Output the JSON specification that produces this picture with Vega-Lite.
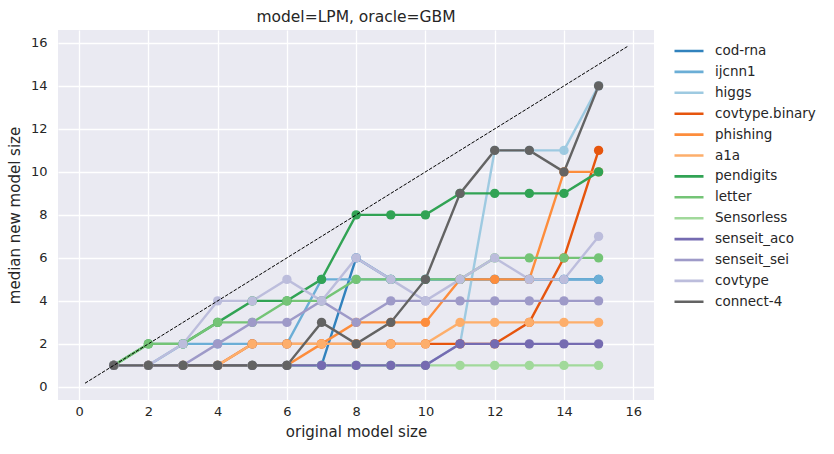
{
  "$schema": "https://vega.github.io/schema/vega-lite/v6.json",
  "width": 596,
  "height": 370,
  "autosize": "none",
  "padding": {"left": 58, "top": 30, "right": 180, "bottom": 54},
  "background": "white",
  "title": {"text": "model=LPM, oracle=GBM", "fontSize": 15.5, "fontWeight": "normal", "font": "DejaVu Sans", "color": "#262626", "offset": 5},
  "config": {
    "view": {"fill": "#EAEAF2", "stroke": null},
    "axis": {
      "domain": false, "ticks": false, "grid": true, "gridColor": "white", "gridWidth": 1.3,
      "labelFont": "DejaVu Sans", "labelFontSize": 13, "labelColor": "#262626",
      "titleFont": "DejaVu Sans", "titleFontSize": 15, "titleFontWeight": "normal", "titleColor": "#262626"
    },
    "legend": {"labelFont": "DejaVu Sans", "labelFontSize": 13.5, "labelColor": "#262626"}
  },
  "datasets": {
    "series": [
      {"s":"cod-rna","x":1,"y":1},{"s":"cod-rna","x":2,"y":1},{"s":"cod-rna","x":3,"y":1},{"s":"cod-rna","x":4,"y":1},{"s":"cod-rna","x":5,"y":1},{"s":"cod-rna","x":6,"y":1},{"s":"cod-rna","x":7,"y":1},{"s":"cod-rna","x":8,"y":6},{"s":"cod-rna","x":9,"y":5},{"s":"cod-rna","x":10,"y":5},{"s":"cod-rna","x":11,"y":5},{"s":"cod-rna","x":12,"y":5},{"s":"cod-rna","x":13,"y":5},{"s":"cod-rna","x":14,"y":5},{"s":"cod-rna","x":15,"y":5},
      {"s":"ijcnn1","x":1,"y":1},{"s":"ijcnn1","x":2,"y":1},{"s":"ijcnn1","x":3,"y":2},{"s":"ijcnn1","x":4,"y":2},{"s":"ijcnn1","x":5,"y":2},{"s":"ijcnn1","x":6,"y":2},{"s":"ijcnn1","x":7,"y":5},{"s":"ijcnn1","x":8,"y":5},{"s":"ijcnn1","x":9,"y":5},{"s":"ijcnn1","x":10,"y":5},{"s":"ijcnn1","x":11,"y":5},{"s":"ijcnn1","x":12,"y":5},{"s":"ijcnn1","x":13,"y":5},{"s":"ijcnn1","x":14,"y":5},{"s":"ijcnn1","x":15,"y":5},
      {"s":"higgs","x":1,"y":1},{"s":"higgs","x":2,"y":1},{"s":"higgs","x":3,"y":1},{"s":"higgs","x":4,"y":1},{"s":"higgs","x":5,"y":1},{"s":"higgs","x":6,"y":1},{"s":"higgs","x":7,"y":1},{"s":"higgs","x":8,"y":1},{"s":"higgs","x":9,"y":1},{"s":"higgs","x":10,"y":1},{"s":"higgs","x":11,"y":2},{"s":"higgs","x":12,"y":11},{"s":"higgs","x":13,"y":11},{"s":"higgs","x":14,"y":11},{"s":"higgs","x":15,"y":14},
      {"s":"covtype.binary","x":1,"y":1},{"s":"covtype.binary","x":2,"y":1},{"s":"covtype.binary","x":3,"y":1},{"s":"covtype.binary","x":4,"y":1},{"s":"covtype.binary","x":5,"y":2},{"s":"covtype.binary","x":6,"y":2},{"s":"covtype.binary","x":7,"y":2},{"s":"covtype.binary","x":8,"y":2},{"s":"covtype.binary","x":9,"y":2},{"s":"covtype.binary","x":10,"y":2},{"s":"covtype.binary","x":11,"y":2},{"s":"covtype.binary","x":12,"y":2},{"s":"covtype.binary","x":13,"y":3},{"s":"covtype.binary","x":14,"y":6},{"s":"covtype.binary","x":15,"y":11},
      {"s":"phishing","x":1,"y":1},{"s":"phishing","x":2,"y":1},{"s":"phishing","x":3,"y":1},{"s":"phishing","x":4,"y":1},{"s":"phishing","x":5,"y":1},{"s":"phishing","x":6,"y":1},{"s":"phishing","x":7,"y":2},{"s":"phishing","x":8,"y":3},{"s":"phishing","x":9,"y":3},{"s":"phishing","x":10,"y":3},{"s":"phishing","x":11,"y":5},{"s":"phishing","x":12,"y":5},{"s":"phishing","x":13,"y":5},{"s":"phishing","x":14,"y":10},{"s":"phishing","x":15,"y":10},
      {"s":"a1a","x":1,"y":1},{"s":"a1a","x":2,"y":1},{"s":"a1a","x":3,"y":1},{"s":"a1a","x":4,"y":1},{"s":"a1a","x":5,"y":2},{"s":"a1a","x":6,"y":2},{"s":"a1a","x":7,"y":2},{"s":"a1a","x":8,"y":2},{"s":"a1a","x":9,"y":2},{"s":"a1a","x":10,"y":2},{"s":"a1a","x":11,"y":3},{"s":"a1a","x":12,"y":3},{"s":"a1a","x":13,"y":3},{"s":"a1a","x":14,"y":3},{"s":"a1a","x":15,"y":3},
      {"s":"pendigits","x":1,"y":1},{"s":"pendigits","x":2,"y":2},{"s":"pendigits","x":3,"y":2},{"s":"pendigits","x":4,"y":3},{"s":"pendigits","x":5,"y":4},{"s":"pendigits","x":6,"y":4},{"s":"pendigits","x":7,"y":5},{"s":"pendigits","x":8,"y":8},{"s":"pendigits","x":9,"y":8},{"s":"pendigits","x":10,"y":8},{"s":"pendigits","x":11,"y":9},{"s":"pendigits","x":12,"y":9},{"s":"pendigits","x":13,"y":9},{"s":"pendigits","x":14,"y":9},{"s":"pendigits","x":15,"y":10},
      {"s":"letter","x":1,"y":1},{"s":"letter","x":2,"y":2},{"s":"letter","x":3,"y":2},{"s":"letter","x":4,"y":3},{"s":"letter","x":5,"y":3},{"s":"letter","x":6,"y":4},{"s":"letter","x":7,"y":4},{"s":"letter","x":8,"y":5},{"s":"letter","x":9,"y":5},{"s":"letter","x":10,"y":5},{"s":"letter","x":11,"y":5},{"s":"letter","x":12,"y":6},{"s":"letter","x":13,"y":6},{"s":"letter","x":14,"y":6},{"s":"letter","x":15,"y":6},
      {"s":"Sensorless","x":1,"y":1},{"s":"Sensorless","x":2,"y":1},{"s":"Sensorless","x":3,"y":1},{"s":"Sensorless","x":4,"y":1},{"s":"Sensorless","x":5,"y":1},{"s":"Sensorless","x":6,"y":1},{"s":"Sensorless","x":7,"y":1},{"s":"Sensorless","x":8,"y":1},{"s":"Sensorless","x":9,"y":1},{"s":"Sensorless","x":10,"y":1},{"s":"Sensorless","x":11,"y":1},{"s":"Sensorless","x":12,"y":1},{"s":"Sensorless","x":13,"y":1},{"s":"Sensorless","x":14,"y":1},{"s":"Sensorless","x":15,"y":1},
      {"s":"senseit_aco","x":1,"y":1},{"s":"senseit_aco","x":2,"y":1},{"s":"senseit_aco","x":3,"y":1},{"s":"senseit_aco","x":4,"y":1},{"s":"senseit_aco","x":5,"y":1},{"s":"senseit_aco","x":6,"y":1},{"s":"senseit_aco","x":7,"y":1},{"s":"senseit_aco","x":8,"y":1},{"s":"senseit_aco","x":9,"y":1},{"s":"senseit_aco","x":10,"y":1},{"s":"senseit_aco","x":11,"y":2},{"s":"senseit_aco","x":12,"y":2},{"s":"senseit_aco","x":13,"y":2},{"s":"senseit_aco","x":14,"y":2},{"s":"senseit_aco","x":15,"y":2},
      {"s":"senseit_sei","x":1,"y":1},{"s":"senseit_sei","x":2,"y":1},{"s":"senseit_sei","x":3,"y":1},{"s":"senseit_sei","x":4,"y":2},{"s":"senseit_sei","x":5,"y":3},{"s":"senseit_sei","x":6,"y":3},{"s":"senseit_sei","x":7,"y":4},{"s":"senseit_sei","x":8,"y":3},{"s":"senseit_sei","x":9,"y":4},{"s":"senseit_sei","x":10,"y":4},{"s":"senseit_sei","x":11,"y":4},{"s":"senseit_sei","x":12,"y":4},{"s":"senseit_sei","x":13,"y":4},{"s":"senseit_sei","x":14,"y":4},{"s":"senseit_sei","x":15,"y":4},
      {"s":"covtype","x":1,"y":1},{"s":"covtype","x":2,"y":1},{"s":"covtype","x":3,"y":2},{"s":"covtype","x":4,"y":4},{"s":"covtype","x":5,"y":4},{"s":"covtype","x":6,"y":5},{"s":"covtype","x":7,"y":4},{"s":"covtype","x":8,"y":6},{"s":"covtype","x":9,"y":5},{"s":"covtype","x":10,"y":4},{"s":"covtype","x":11,"y":5},{"s":"covtype","x":12,"y":6},{"s":"covtype","x":13,"y":5},{"s":"covtype","x":14,"y":5},{"s":"covtype","x":15,"y":7},
      {"s":"connect-4","x":1,"y":1},{"s":"connect-4","x":2,"y":1},{"s":"connect-4","x":3,"y":1},{"s":"connect-4","x":4,"y":1},{"s":"connect-4","x":5,"y":1},{"s":"connect-4","x":6,"y":1},{"s":"connect-4","x":7,"y":3},{"s":"connect-4","x":8,"y":2},{"s":"connect-4","x":9,"y":3},{"s":"connect-4","x":10,"y":5},{"s":"connect-4","x":11,"y":9},{"s":"connect-4","x":12,"y":11},{"s":"connect-4","x":13,"y":11},{"s":"connect-4","x":14,"y":10},{"s":"connect-4","x":15,"y":14}
    ],
    "diag": [{"x": 0.17, "y": 0.17}, {"x": 15.83, "y": 15.83}]
  },
  "layer": [
    {
      "data": {"name": "series"},
      "mark": {"type": "line", "strokeWidth": 2.4},
      "encoding": {
        "x": {"field": "x", "type": "quantitative", "title": "original model size",
              "scale": {"domain": [-0.61, 16.6], "nice": false, "zero": false},
              "axis": {"values": [0,2,4,6,8,10,12,14,16], "labelPadding": 5, "titlePadding": 6}},
        "y": {"field": "y", "type": "quantitative", "title": "median new model size",
              "scale": {"domain": [-0.61, 16.6], "nice": false, "zero": false},
              "axis": {"values": [0,2,4,6,8,10,12,14,16], "labelPadding": 11, "titlePadding": 8}},
        "color": {"field": "s", "type": "nominal",
                  "scale": {"domain": ["cod-rna","ijcnn1","higgs","covtype.binary","phishing","a1a","pendigits","letter","Sensorless","senseit_aco","senseit_sei","covtype","connect-4"],
                            "range": ["#3182bd","#6baed6","#9ecae1","#e6550d","#fd8d3c","#fdae6b","#31a354","#74c476","#a1d99b","#756bb1","#9e9ac8","#bcbddc","#636363"]},
                  "legend": {"title": null, "orient": "none", "legendX": 615, "legendY": 14, "padding": 0,
                             "symbolType": "stroke", "symbolSize": 841, "symbolStrokeWidth": 2.6,
                             "clipHeight": 14, "rowPadding": 6.9, "labelOffset": 10}}
      }
    },
    {
      "data": {"name": "series"},
      "mark": {"type": "point", "filled": true, "size": 88, "opacity": 1},
      "encoding": {
        "x": {"field": "x", "type": "quantitative"},
        "y": {"field": "y", "type": "quantitative"},
        "color": {"field": "s", "type": "nominal", "legend": null}
      }
    },
    {
      "data": {"name": "diag"},
      "mark": {"type": "line", "color": "black", "strokeWidth": 1, "strokeDash": [3.5, 1.5]},
      "encoding": {
        "x": {"field": "x", "type": "quantitative"},
        "y": {"field": "y", "type": "quantitative"}
      }
    }
  ]
}
